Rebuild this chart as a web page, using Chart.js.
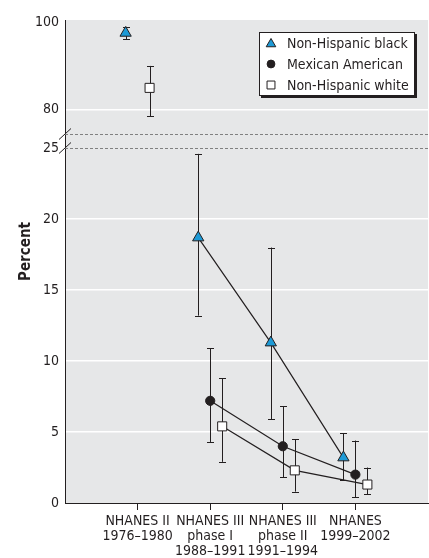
<!DOCTYPE html>
<html>
<head>
<meta charset="utf-8">
<script src="https://cdn.jsdelivr.net/npm/chart.js@4"></script>
<style>
  html, body { margin: 0; padding: 0; background: #fff; }
  #wrap { width: 429px; height: 558px; }
</style>
</head>
<body>
<div id="wrap"><canvas id="lead-plot" width="429" height="558"></canvas></div>
<script>
const periodLabels = [
    ['NHANES II', '1976–1980'],
    ['NHANES III', 'phase I', '1988–1991'],
    ['NHANES III', 'phase II', '1991–1994'],
    ['NHANES', '1999–2002']
];

const blackPct  = [97.5, 18.7, 11.3, 3.2];
const blackLow  = [96.1, 13.2,  5.9, 1.6];
const blackHigh = [98.9, 24.6, 18.0, 4.9];

const mexicanPct  = [null, 7.2, 4.0, 2.0];
const mexicanLow  = [null, 4.3, 1.8, 0.4];
const mexicanHigh = [null, 10.9, 6.8, 4.4];

const whitePct  = [85.0, 5.4, 2.3, 1.3];
const whiteLow  = [78.6, 2.9, 0.8, 0.6];
const whiteHigh = [90.0, 8.8, 4.5, 2.5];

const topTicks = [80, 100];
const bottomTicks = [0, 5, 10, 15, 20, 25];

const ink = '#231f20';
const fontFamily = "'Liberation Sans Narrow', 'DejaVu Sans Condensed', 'Liberation Sans', sans-serif";
const breakAt = 26;

const series = [
    { label: 'Non-Hispanic black', pct: blackPct, low: blackLow, high: blackHigh,
      style: 'triangle', radius: 6.5, fill: '#1d9ad6', shift: -0.165 },
    { label: 'Mexican American', pct: mexicanPct, low: mexicanLow, high: mexicanHigh,
      style: 'circle', radius: 4.6, fill: ink, shift: 0 },
    { label: 'Non-Hispanic white', pct: whitePct, low: whiteLow, high: whiteHigh,
      style: 'rect', radius: 6.4, fill: '#ffffff', shift: 0.165 }
];

Chart.defaults.font.family = fontFamily;
Chart.defaults.font.size = 14;
Chart.defaults.color = ink;

// datasets: points above the break go on the top axis (no line), the rest on the bottom one
let datasets = [];
for (let s of series) {
    const top = [], bottom = [];
    s.pct.forEach((v, i) => {
        if (v === null) return;
        const pt = { x: i + 1 + s.shift, y: v, lo: s.low[i], hi: s.high[i] };
        (v > breakAt ? top : bottom).push(pt);
    });
    const common = {
        pointStyle: s.style,
        pointRadius: s.radius,
        pointHoverRadius: s.radius,
        pointBackgroundColor: s.fill,
        pointBorderColor: ink,
        pointBorderWidth: 1,
        borderColor: ink,
        borderWidth: 1.2,
        fill: false
    };
    if (top.length) {
        datasets.push(Object.assign({ label: s.label, data: top, yAxisID: 'yTop', showLine: false }, common));
    }
    datasets.push(Object.assign({ label: s.label, data: bottom, yAxisID: 'yLow', showLine: true }, common));
}

const plotBackground = {
    id: 'plotBackground',
    beforeDraw(chart) {
        const { ctx, chartArea: { left, top, width, height } } = chart;
        ctx.save();
        ctx.fillStyle = '#e6e7e8';
        ctx.fillRect(left, top, width, height);
        ctx.restore();
    }
};

const errorBars = {
    id: 'errorBars',
    beforeDatasetsDraw(chart) {
        const ctx = chart.ctx;
        ctx.save();
        ctx.strokeStyle = ink;
        ctx.lineWidth = 1;
        chart.data.datasets.forEach((ds) => {
            const ys = chart.scales[ds.yAxisID];
            ds.data.forEach((p) => {
                const x = Math.round(chart.scales.x.getPixelForValue(p.x)) + 0.5;
                const y1 = ys.getPixelForValue(p.lo);
                const y2 = ys.getPixelForValue(p.hi);
                ctx.beginPath();
                ctx.moveTo(x, y1); ctx.lineTo(x, y2);
                ctx.moveTo(x - 3.5, Math.round(y1) + 0.5); ctx.lineTo(x + 3.5, Math.round(y1) + 0.5);
                ctx.moveTo(x - 3.5, Math.round(y2) + 0.5); ctx.lineTo(x + 3.5, Math.round(y2) + 0.5);
                ctx.stroke();
            });
        });
        ctx.restore();
    }
};

const axisBreak = {
    id: 'axisBreak',
    beforeDatasetsDraw(chart) {
        const { ctx, chartArea: { left, right } } = chart;
        const yA = Math.round(chart.scales.yTop.getPixelForValue(chart.scales.yTop.min)) + 0.5;
        const yB = Math.round(chart.scales.yLow.getPixelForValue(25)) + 0.5;
        ctx.save();
        ctx.strokeStyle = '#808080';
        ctx.lineWidth = 1;
        ctx.setLineDash([3, 2]);
        for (let y of [yA, yB]) {
            ctx.beginPath();
            ctx.moveTo(left, y);
            ctx.lineTo(right, y);
            ctx.stroke();
        }
        ctx.setLineDash([]);
        ctx.strokeStyle = ink;
        for (let y of [yA, yB]) {
            ctx.beginPath();
            ctx.moveTo(left - 6, y + 5);
            ctx.lineTo(left + 6, y - 6);
            ctx.stroke();
        }
        ctx.restore();
    }
};

const sideLabels = {
    id: 'sideLabels',
    afterDraw(chart) {
        const { ctx, chartArea: { top, bottom } } = chart;
        ctx.save();
        // y axis title
        ctx.translate(26, (top + bottom) / 2 - 10);
        ctx.rotate(-Math.PI / 2);
        ctx.font = 'bold 15px ' + fontFamily;
        ctx.fillStyle = ink;
        ctx.textAlign = 'center';
        ctx.textBaseline = 'middle';
        ctx.fillText('Percent', 0, 0);
        ctx.restore();

        // legend box with drop shadow
        const bx = 259, by = 32, bw = 156, bh = 64;
        ctx.save();
        ctx.fillStyle = ink;
        ctx.fillRect(bx + 2, by + 2, bw, bh);
        ctx.fillStyle = '#ffffff';
        ctx.fillRect(bx, by, bw, bh);
        ctx.strokeStyle = ink;
        ctx.lineWidth = 1;
        ctx.strokeRect(bx + 0.5, by + 0.5, bw - 1, bh - 1);
        ctx.font = '14px ' + fontFamily;
        ctx.textBaseline = 'middle';
        series.forEach((s, i) => {
            const y = by + 11 + i * 21;
            ctx.fillStyle = s.fill;
            ctx.strokeStyle = ink;
            ctx.lineWidth = 1;
            Chart.helpers.drawPoint(ctx, {
                pointStyle: s.style,
                radius: s.style === 'rect' ? 5.6 : s.radius * 0.85,
                rotation: 0,
                borderWidth: 1
            }, bx + 12, y + (s.style === 'triangle' ? 1 : 0));
            ctx.fillStyle = ink;
            ctx.fillText(s.label, bx + 28, y + 1);
        });
        ctx.restore();
    }
};

const ctx = document.getElementById('lead-plot').getContext('2d');

new Chart(ctx, {
    type: 'scatter',
    plugins: [plotBackground, errorBars, axisBreak, sideLabels],
    data: { datasets: datasets },
    options: {
        responsive: false,
        animation: false,
        layout: { autoPadding: false, padding: { top: 20, right: 1, left: 0, bottom: 0 } },
        plugins: {
            legend: { display: false },
            tooltip: { enabled: false }
        },
        scales: {
            x: {
                type: 'linear',
                min: 0,
                max: 5,
                afterBuildTicks(scale) {
                    scale.ticks = periodLabels.map((_, i) => ({ value: i + 1 }));
                },
                afterFit(scale) {
                    scale.height = 55;
                    scale.paddingLeft = 0;
                    scale.paddingRight = 0;
                },
                ticks: {
                    autoSkip: false,
                    maxRotation: 0,
                    padding: 4,
                    font: { size: 14, lineHeight: 1.08 },
                    callback: (value) => periodLabels[value - 1]
                },
                grid: {
                    drawOnChartArea: false,
                    drawTicks: true,
                    tickLength: 7,
                    tickColor: ink
                },
                border: { color: ink, width: 1 }
            },
            yLow: {
                type: 'linear',
                position: 'left',
                stack: 'pct',
                stackWeight: 369,
                weight: 0,
                min: 0,
                max: 26,
                afterBuildTicks(scale) {
                    scale.ticks = bottomTicks.map(v => ({ value: v }));
                },
                afterFit(scale) { scale.width = 65; },
                ticks: { padding: 6 },
                grid: {
                    drawTicks: false,
                    color: (c) => c.tick && c.tick.value > 0 && c.tick.value < 25 ? '#ffffff' : 'rgba(0,0,0,0)',
                    lineWidth: 1.5
                },
                border: { color: ink, width: 1 }
            },
            yTop: {
                type: 'linear',
                position: 'left',
                stack: 'pct',
                stackWeight: 114,
                weight: 1,
                min: 74.5,
                max: 100.45,
                afterBuildTicks(scale) {
                    scale.ticks = topTicks.map(v => ({ value: v }));
                },
                afterFit(scale) { scale.width = 65; },
                ticks: { padding: 6 },
                grid: {
                    drawTicks: false,
                    color: (c) => c.tick && c.tick.value === 80 ? '#ffffff' : 'rgba(0,0,0,0)',
                    lineWidth: 1.5
                },
                border: { color: ink, width: 1 }
            }
        }
    }
});
</script>
</body>
</html>
